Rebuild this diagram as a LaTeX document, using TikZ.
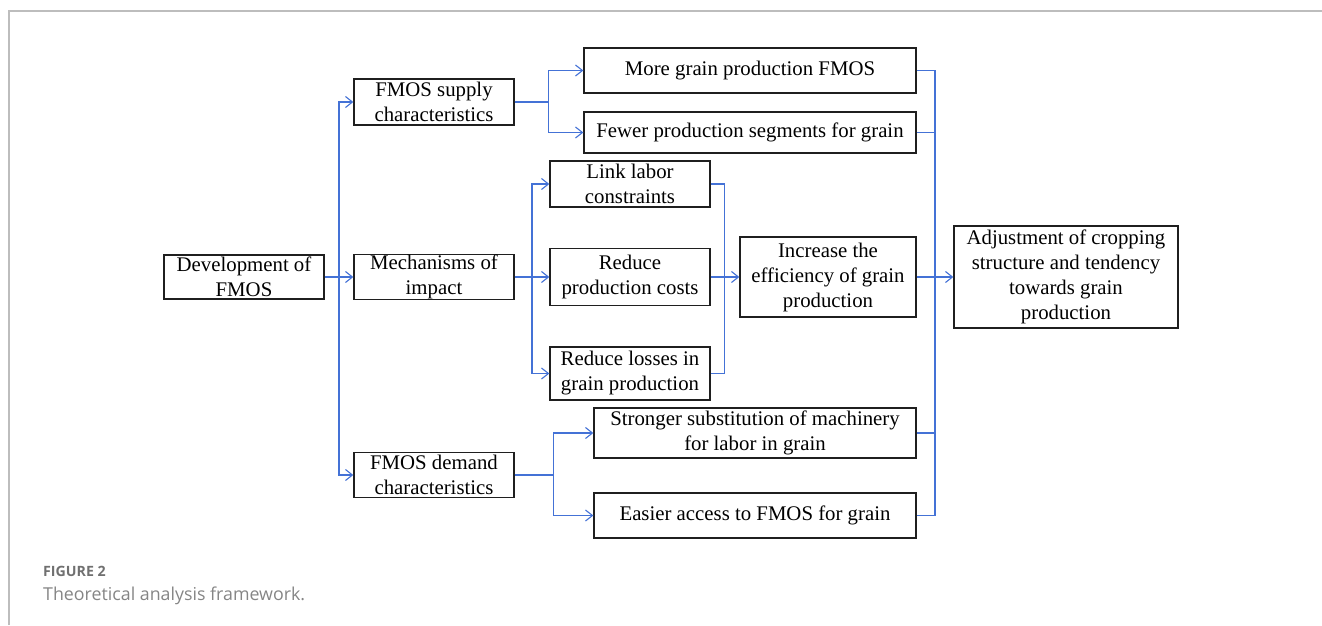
\documentclass[tikz,border=0pt]{standalone}
\usepackage{fontspec}
\setmainfont{Liberation Serif}
\newfontfamily\capfont{Open Sans}
\usetikzlibrary{arrows.meta}
\definecolor{linkblue}{HTML}{4472D6}
\definecolor{framegray}{HTML}{BDBDBD}
\definecolor{capgray}{HTML}{707070}
\tikzset{
  box/.style={draw=black!88, line width=1.3pt, inner sep=0pt, align=center,
    font=\fontsize{20.8}{25}\selectfont},
  conn/.style={draw=linkblue, line width=1.2pt},
  arr/.style={conn, -{Straight Barb[length=7pt,width=11pt,line width=1.1pt]}},
}
\begin{document}
\begin{tikzpicture}[x=1pt,y=-1pt]
\useasboundingbox (0,0) rectangle (1322,625);
\draw[framegray, line width=2pt] (9,625) -- (9,11) -- (1322,11);

\node[box, minimum width=160pt, minimum height=44pt] (dev) at (244,277) {Development of\\FMOS};
\node[box, minimum width=160pt, minimum height=46pt] (sup) at (434,102) {FMOS supply\\characteristics};
\node[box, minimum width=160pt, minimum height=45pt] (mech) at (434,277) {Mechanisms of\\impact};
\node[box, minimum width=160pt, minimum height=45pt] (dem) at (434,475) {FMOS demand\\characteristics};
\node[box, minimum width=332pt, minimum height=45pt] (more) at (750,70.5) {More grain production FMOS};
\node[box, minimum width=332pt, minimum height=41pt] (fewer) at (750,132.5) {Fewer production segments for grain};
\node[box, minimum width=160pt, minimum height=46pt] (link) at (630,184) {Link labor\\constraints};
\node[box, minimum width=160pt, minimum height=57pt] (cost) at (630,277) {Reduce\\production costs};
\node[box, minimum width=160pt, minimum height=53pt] (loss) at (630,373.5) {Reduce losses in\\grain production};
\node[box, minimum width=176pt, minimum height=80pt] (inc) at (828,277) {Increase the\\efficiency of grain\\production};
\node[box, minimum width=224pt, minimum height=102pt] (adj) at (1066,277) {Adjustment of cropping\\structure and tendency\\towards grain\\production};
\node[box, minimum width=322pt, minimum height=50pt] (strong) at (755,433) {Stronger substitution of machinery\\for labor in grain};
\node[box, minimum width=322pt, minimum height=45pt] (easy) at (755,515.5) {Easier access to FMOS for grain};

% development -> three branches
\coordinate (b1) at (339,277);
\draw[arr] (dev.east) -- (mech.west);
\draw[arr] (b1) |- (sup.west);
\draw[arr] (b1) |- (dem.west);

% supply -> two
\draw[arr] (sup.east) -- ++(34,0) |- (more.west);
\draw[arr] (sup.east) -- ++(34,0) |- (fewer.west);

% mechanisms -> three
\coordinate (b2) at (532,277);
\draw[arr] (mech.east) -- (cost.west);
\draw[arr] (b2) |- (link.west);
\draw[arr] (b2) |- (loss.west);

% three -> increase
\draw[conn] (link.east) -- ++(14,0) |- (loss.east);
\draw[arr] (cost.east) -- (inc.west);

% demand -> two
\draw[arr] (dem.east) -- ++(39,0) |- (strong.west);
\draw[arr] (dem.east) -- ++(39,0) |- (easy.west);

% right bus
\coordinate (b3) at (935,277);
\draw[conn] (more.east) -| (b3);
\draw[conn] (easy.east) -| (b3);
\draw[conn] (fewer.east) -- (fewer.east -| b3);
\draw[conn] (strong.east) -- (strong.east -| b3);
\draw[arr] (inc.east) -- (adj.west);

% caption
\node[anchor=base west, inner sep=0pt, text=capgray, font=\capfont\bfseries\fontsize{14.2}{16}\selectfont] (figlabel) at (43,576) {FIGURE 2};
\node[anchor=base west, inner sep=0pt, text=capgray!85, font=\capfont\fontsize{17.8}{22}\selectfont] (figcap) at (43,600) {Theoretical analysis framework.};
\end{tikzpicture}
\end{document}
